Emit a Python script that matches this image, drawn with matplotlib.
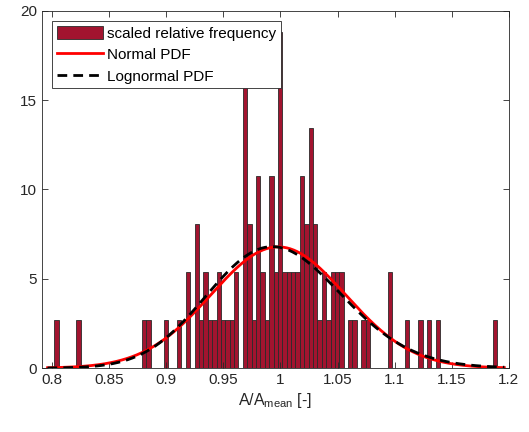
import numpy as np
import matplotlib
matplotlib.use("Agg")
import matplotlib.pyplot as plt
from matplotlib.ticker import FuncFormatter

# histogram bins (equal width) and the number of samples in each
bin_start = 0.8019
bin_width = 0.00384
counts = [
    1, 0, 0, 0, 0, 1, 0, 0, 0, 0,
    0, 0, 0, 0, 0, 0, 0, 0, 0, 0,
    1, 1, 0, 0, 0, 1, 0, 0, 1, 0,
    2, 0, 3, 1, 2, 1, 1, 2, 1, 1,
    1, 2, 0, 6, 3, 1, 4, 2, 1, 4,
    2, 7, 2, 2, 2, 2, 4, 3, 5, 3,
    1, 2, 1, 2, 2, 2, 0, 1, 1, 0,
    1, 1, 0, 0, 0, 0, 2, 0, 0, 0,
    1, 0, 0, 1, 0, 1, 0, 1, 0, 0,
    0, 0, 0, 0, 0, 0, 0, 0, 0, 0,
    1,
]

# fitted distributions
normal_mu = 0.998
normal_sigma = 0.0588
logn_mu = -0.0037
logn_sigma = 0.0590
fit_lo, fit_hi = 0.796, 1.196

xticks = [0.8, 0.85, 0.9, 0.95, 1.0, 1.05, 1.1, 1.15, 1.2]
yticks = [0, 5, 10, 15, 20]

plt.rcParams['font.family'] = ['Liberation Sans', 'DejaVu Sans']
plt.rcParams['mathtext.default'] = 'regular'

counts = np.array(counts, dtype=float)
centers = bin_start + bin_width * (np.arange(len(counts)) + 0.5)
scaled = counts / (counts.sum() * bin_width)
keep = counts > 0

x = np.linspace(fit_lo, fit_hi, 400)
pdf_norm = np.exp(-0.5 * ((x - normal_mu) / normal_sigma) ** 2) / (normal_sigma * np.sqrt(2 * np.pi))
pdf_logn = np.exp(-0.5 * ((np.log(x) - logn_mu) / logn_sigma) ** 2) / (x * logn_sigma * np.sqrt(2 * np.pi))

fig = plt.figure(figsize=(5.29, 4.32), dpi=100)
ax = fig.add_axes([0.079, 0.148, 0.883, 0.827])

bars = ax.bar(centers[keep], scaled[keep], width=bin_width, color='#A2142F',
              edgecolor='#2a2a2a', linewidth=0.6)
l_norm, = ax.plot(x, pdf_norm, color='red', lw=2)
l_logn, = ax.plot(x, pdf_logn, color='black', lw=2, ls=(0, (3.5, 2.2)))

ax.set_xlim(0.791, 1.2)
ax.set_ylim(0, 20)
ax.set_xticks(xticks)
ax.set_yticks(yticks)
ax.xaxis.set_major_formatter(FuncFormatter(lambda v, p: '%g' % round(v, 3)))
ax.tick_params(direction='in', top=True, right=True, length=4, width=0.6,
               labelsize=11, colors='#262626')
for s in ax.spines.values():
    s.set_color('#262626')
    s.set_linewidth(0.6)

ax.set_xlabel('A/A$_{mean}$ [-]', fontsize=11.5, color='#262626', labelpad=3)

leg = ax.legend([bars, l_norm, l_logn],
                ['scaled relative frequency', 'Normal PDF', 'Lognormal PDF'],
                loc='upper left', fontsize=11, fancybox=False, framealpha=1,
                edgecolor='#262626', borderaxespad=0.7, handlelength=3.0,
                handletextpad=0.3, labelspacing=0.45, borderpad=0.3,
                handleheight=0.9)
leg.get_frame().set_linewidth(0.6)

fig.savefig('out.png', dpi=100)
